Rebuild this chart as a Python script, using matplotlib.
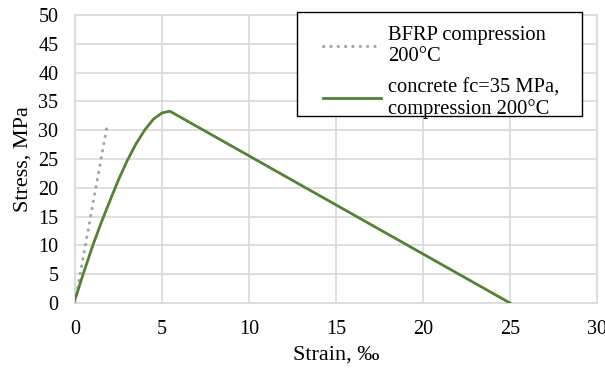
import matplotlib
matplotlib.use("Agg")
import matplotlib.pyplot as plt
from matplotlib.patches import Rectangle

plt.rcParams['font.family'] = ['Liberation Serif', 'DejaVu Serif']

# BFRP compression at 200°C
bfrp_strain = [0.0, 1.87]
bfrp_stress = [0.1, 31.2]

# concrete fc=35 MPa, compression at 200°C
conc_strain = [0.0, 0.5, 1.0, 1.5, 2.0, 2.5, 3.0, 3.5, 4.0, 4.5, 5.0, 5.45, 25.0]
conc_stress = [0.6, 5.3, 9.8, 13.9, 17.7, 21.4, 24.7, 27.6, 30.0, 31.9, 33.0, 33.3, 0.0]

x_ticks = [0, 5, 10, 15, 20, 25, 30]
y_ticks = [0, 5, 10, 15, 20, 25, 30, 35, 40, 45, 50]

W, H = 605, 370
fig = plt.figure(figsize=(W / 100, H / 100), dpi=100)
ax = fig.add_axes([75 / W, 67 / H, 522 / W, 288 / H])

ax.plot(bfrp_strain, bfrp_stress, color='#A5A5A5', linewidth=2.2,
        linestyle=(0, (0.1, 2.3)), dash_capstyle='round',
        label='BFRP compression\n200°C', zorder=3)
ax.plot(conc_strain, conc_stress, color='#548235', linewidth=2,
        label='concrete fc=35 MPa,\ncompression 200°C', zorder=3,
        solid_joinstyle='round')

ax.set_xlim(0, 30)
ax.set_ylim(0, 50)
ax.set_xticks(x_ticks)
ax.set_yticks(y_ticks)
ax.tick_params(axis='both', length=0, labelsize=14.5, pad=12)
ax.grid(True, color='#D9D9D9', linewidth=1.2)
for side in ['top', 'right', 'left', 'bottom']:
    ax.spines[side].set_color('#D9D9D9')
    ax.spines[side].set_linewidth(1.2)

ax.set_xlabel('Strain, ‰', fontsize=16, labelpad=5)
ax.set_ylabel('Stress, MPa', fontsize=16, labelpad=4)

# legend box drawn separately so the padding can match the original
ax.add_patch(Rectangle((297 / W, 1 - 116 / H), 285 / W, 104 / H,
                       transform=fig.transFigure, facecolor='white',
                       edgecolor='black', linewidth=1.0, zorder=4,
                       clip_on=False))
leg = ax.legend(loc='upper left', bbox_to_anchor=(313 / W, 1 - 16 / H),
                bbox_transform=fig.transFigure, fontsize=14.8,
                frameon=False, handlelength=2.8, borderpad=0,
                labelspacing=0.6, handletextpad=0.35)
leg.set_zorder(5)
for t in leg.get_texts():
    t.set_linespacing(1.12)

fig.savefig('out.png', dpi=100)
